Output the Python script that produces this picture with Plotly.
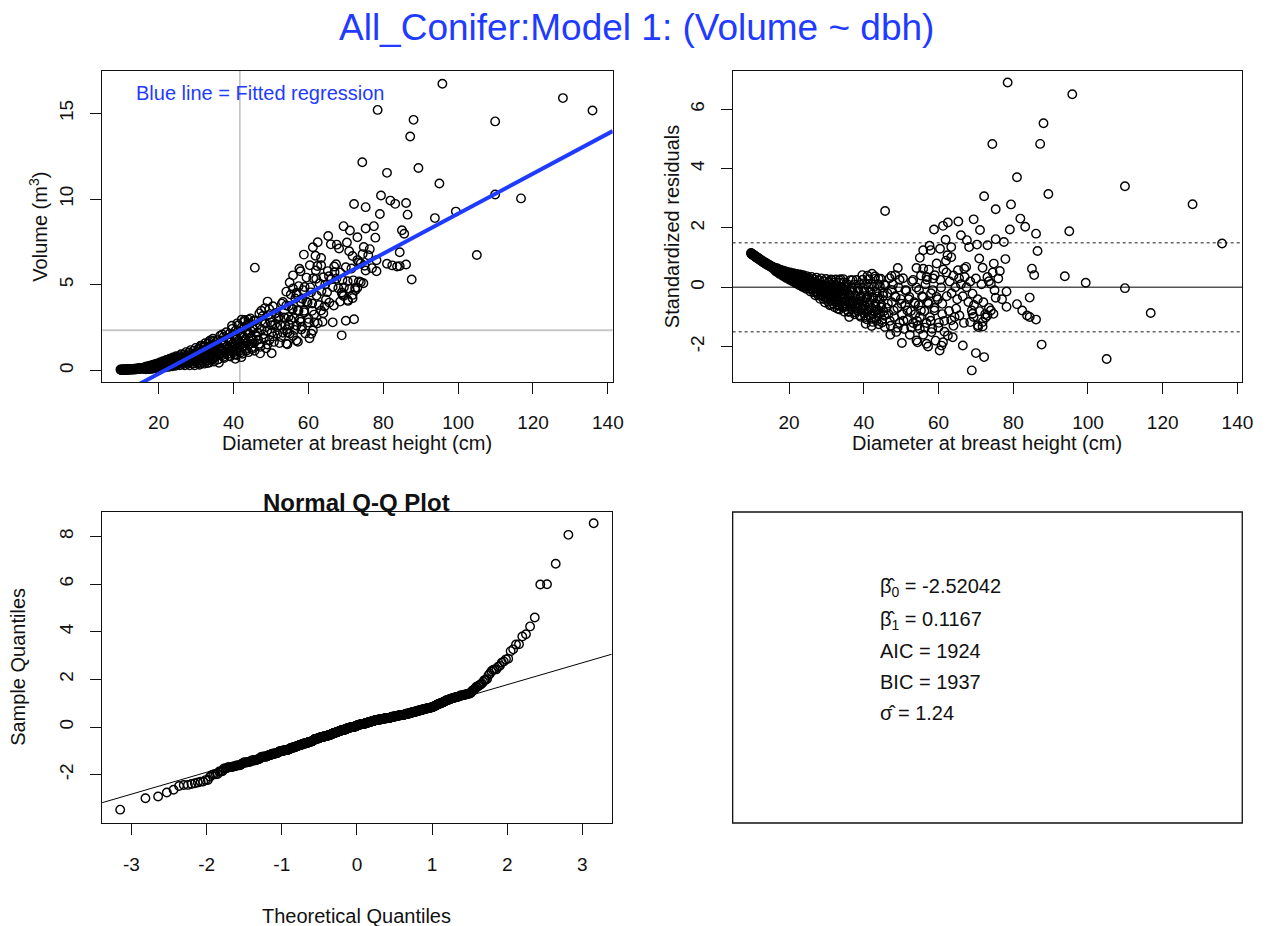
import numpy as np
import plotly.graph_objects as go
from statistics import NormalDist

# ---------------- model summary values ----------------
beta0 = -2.52042
beta1 = 0.1167
sigma_hat = 1.24
aic_value = 1924
bic_value = 1937
mean_dbh = 41.7

# ---------------- data (dbh in cm, volume in m^3) ----------------
dbh_sapling = [9.8, 9.9, 10.0, 10.0, 10.1, 10.2, 10.3, 10.4, 10.5, 10.6, 10.7, 10.8, 10.9, 11.0, 11.1, 11.2, 11.3, 11.5,
               11.6, 11.7, 11.8, 12.0, 12.1, 12.2, 12.3, 12.5, 12.6, 12.7, 12.9, 13.0, 13.1, 13.3, 13.4, 13.5, 13.7, 13.8,
               13.9, 14.1, 14.2, 14.3, 14.5, 14.6, 14.7, 14.9, 15.0, 15.1, 15.3, 15.4, 15.5, 15.7, 15.8, 15.9, 16.0, 16.1]
vol_sapling = [0.06, 0.04, 0.05, 0.03, 0.06, 0.04, 0.05, 0.03, 0.06, 0.04, 0.05, 0.07, 0.04, 0.06, 0.03, 0.05, 0.07, 0.04,
               0.06, 0.08, 0.05, 0.07, 0.04, 0.06, 0.08, 0.05, 0.07, 0.09, 0.06, 0.08, 0.05, 0.09, 0.07, 0.10, 0.06, 0.09,
               0.11, 0.07, 0.10, 0.12, 0.08, 0.11, 0.13, 0.09, 0.12, 0.14, 0.10, 0.13, 0.15, 0.11, 0.14, 0.17, 0.12, 0.16]

dbh_small = [16.20, 16.28, 16.36, 16.44, 16.52, 16.60, 16.68, 16.76, 16.84, 16.92, 17.00, 17.08, 17.16, 17.24, 17.32,
             17.40, 17.48, 17.56, 17.64, 17.72, 17.80, 17.88, 17.96, 18.04, 18.12, 18.20, 18.28, 18.36, 18.44, 18.52,
             18.60, 18.68, 18.76, 18.84, 18.92, 19.00, 19.08, 19.16, 19.24, 19.32, 19.40, 19.48, 19.56, 19.64, 19.72,
             19.80, 19.88, 19.96, 20.04, 20.12, 20.20, 20.28, 20.36, 20.44, 20.52, 20.60, 20.68, 20.76, 20.84, 20.92,
             21.00, 21.08, 21.16, 21.24, 21.32, 21.40, 21.48, 21.56, 21.64, 21.72, 21.80, 21.88, 21.96, 22.04, 22.12,
             22.20, 22.28, 22.36, 22.44, 22.52, 22.60, 22.68, 22.76, 22.84, 22.92, 23.00, 23.08, 23.16, 23.24, 23.32,
             23.40, 23.48, 23.56, 23.64, 23.72, 23.80, 23.88, 23.96, 24.04, 24.12, 24.20, 24.28, 24.36, 24.44, 24.52,
             24.60, 24.68, 24.76, 24.84, 24.92]
vol_small = [0.13, 0.08, 0.19, 0.11, 0.17, 0.07, 0.16, 0.23, 0.11, 0.15, 0.21, 0.16, 0.10, 0.24, 0.14,
             0.22, 0.08, 0.20, 0.28, 0.13, 0.18, 0.26, 0.20, 0.12, 0.29, 0.17, 0.26, 0.10, 0.25, 0.34,
             0.16, 0.22, 0.32, 0.24, 0.14, 0.35, 0.20, 0.31, 0.12, 0.29, 0.40, 0.19, 0.25, 0.37, 0.28,
             0.17, 0.40, 0.24, 0.36, 0.14, 0.34, 0.47, 0.22, 0.30, 0.43, 0.32, 0.19, 0.47, 0.28, 0.42,
             0.17, 0.39, 0.54, 0.25, 0.34, 0.49, 0.37, 0.22, 0.53, 0.32, 0.48, 0.19, 0.44, 0.61, 0.29,
             0.39, 0.56, 0.42, 0.26, 0.60, 0.36, 0.54, 0.22, 0.50, 0.69, 0.33, 0.44, 0.63, 0.47, 0.29,
             0.67, 0.41, 0.60, 0.25, 0.56, 0.76, 0.37, 0.49, 0.69, 0.52, 0.33, 0.74, 0.45, 0.66, 0.28,
             0.62, 0.83, 0.41, 0.54, 0.76]

dbh_young = [25.0, 25.1, 25.2, 25.3, 25.4, 25.5, 25.6, 25.7, 25.8, 25.9, 26.0, 26.1, 26.2, 26.3, 26.4, 26.5, 26.6, 26.7,
             26.8, 26.9, 27.0, 27.1, 27.2, 27.3, 27.4, 27.5, 27.6, 27.7, 27.8, 27.9, 28.0, 28.1, 28.2, 28.3, 28.4, 28.5,
             28.6, 28.7, 28.8, 28.9, 29.0, 29.1, 29.2, 29.3, 29.4, 29.5, 29.6, 29.7, 29.8, 29.9, 30.0, 30.1, 30.2, 30.3,
             30.4, 30.5, 30.6, 30.7, 30.8, 30.9, 31.0, 31.1, 31.2, 31.3, 31.4, 31.5, 31.6, 31.7, 31.8, 31.9, 32.0, 32.1,
             32.2, 32.3, 32.4, 32.5, 32.6, 32.7, 32.8, 32.9, 33.0, 33.1, 33.2, 33.3, 33.4, 33.5, 33.6, 33.7, 33.8, 33.9,
             34.0, 34.1, 34.2, 34.3, 34.4, 34.5, 34.6, 34.7, 34.8, 34.9]
vol_young = [0.58, 0.46, 0.72, 0.37, 0.63, 0.84, 0.54, 0.30, 0.72, 0.44, 0.95, 0.60, 0.71, 0.64, 0.49, 0.80, 0.38, 0.70,
             0.94, 0.58, 0.30, 0.80, 0.47, 1.07, 0.65, 0.78, 0.70, 0.52, 0.89, 0.39, 0.76, 1.05, 0.63, 0.30, 0.88, 0.49,
             1.19, 0.70, 0.85, 0.76, 0.56, 0.98, 0.40, 0.83, 1.16, 0.68, 0.30, 0.97, 0.52, 1.32, 0.76, 0.94, 0.83, 0.60,
             1.08, 0.44, 0.92, 1.28, 0.75, 0.34, 1.07, 0.59, 1.45, 0.85, 1.04, 0.93, 0.68, 1.19, 0.51, 1.02, 1.41, 0.85,
             0.40, 1.19, 0.67, 1.60, 0.95, 1.16, 1.03, 0.77, 1.32, 0.58, 1.14, 1.56, 0.94, 0.46, 1.31, 0.75, 1.76, 1.05,
             1.28, 1.14, 0.86, 1.46, 0.65, 1.26, 1.72, 1.05, 0.52, 1.45]

dbh_pole = [30.3, 30.6, 31.0, 31.3, 31.5, 31.6, 31.9, 32.2, 32.5, 32.8, 33.0, 33.2, 33.4, 33.5, 33.8, 34.1, 34.4,
            34.5, 34.7, 35.0, 35.3, 35.6, 35.9, 36.1, 36.2, 36.5, 36.8, 37.0, 37.1, 37.4, 37.7, 38.0, 38.3, 38.6,
            38.9, 39.2, 39.5, 39.6, 39.8, 40.1, 40.4, 40.5, 40.7, 41.0, 41.0, 41.3, 41.6, 41.9, 42.1, 42.2, 42.2,
            42.5, 42.8, 43.0, 43.1, 43.4, 43.7, 44.0, 44.0, 44.3, 44.6, 44.9, 45.2, 45.5, 45.7, 45.8, 46.1]
vol_pole = [0.70, 1.25, 0.85, 0.40, 1.45, 1.05, 0.75, 1.35, 0.95, 0.60, 0.44, 1.15, 1.68, 0.80, 1.45, 1.00, 0.70,
            1.85, 1.25, 0.90, 1.60, 1.10, 0.65, 0.45, 1.35, 0.95, 1.75, 2.10, 1.20, 0.80, 1.50, 1.05, 1.90, 1.30,
            0.85, 1.65, 1.15, 2.61, 2.10, 1.40, 0.95, 0.68, 1.80, 1.25, 2.75, 2.30, 1.55, 1.05, 0.78, 2.00, 2.97,
            1.35, 2.50, 2.95, 1.70, 1.15, 2.20, 1.50, 2.97, 2.70, 1.85, 1.25, 2.40, 1.60, 6.00, 2.90, 2.00]

dbh_pole2 = [35.00, 35.18, 35.36, 35.54, 35.72, 35.90, 36.08, 36.26, 36.44, 36.62, 36.80, 36.98, 37.16, 37.34, 37.52,
             37.70, 37.88, 38.06, 38.24, 38.42, 38.60, 38.78, 38.96, 39.14, 39.32, 39.50, 39.68, 39.86, 40.04, 40.22,
             40.40, 40.58, 40.76, 40.94, 41.12, 41.30, 41.48, 41.66, 41.84, 42.02, 42.20, 42.38, 42.56, 42.74, 42.92,
             43.10, 43.28, 43.46, 43.64, 43.82, 44.00, 44.18, 44.36, 44.54, 44.72, 44.90, 45.08, 45.26, 45.44, 45.62]
vol_pole2 = [1.15, 0.77, 1.49, 1.03, 1.77, 0.65, 1.40, 1.00, 2.03, 1.28, 0.87, 1.66, 1.15, 1.96, 0.73,
             1.55, 1.12, 2.23, 1.42, 0.97, 1.83, 1.27, 2.15, 0.82, 1.70, 1.23, 2.43, 1.56, 1.07, 1.99,
             1.39, 2.34, 0.90, 1.86, 1.34, 2.64, 1.69, 1.16, 2.16, 1.52, 2.53, 0.98, 2.01, 1.46, 2.84,
             1.83, 1.26, 2.32, 1.64, 2.72, 1.07, 2.16, 1.57, 3.04, 1.96, 1.36, 2.49, 1.76, 2.90, 1.15]

dbh_mature = [46.3, 46.6, 46.9, 47.2, 47.5, 47.8, 48.1, 48.4, 48.7, 49.0, 49.3, 49.6, 49.9, 50.2, 50.5, 50.8, 51.1,
              51.4, 51.7, 52.0, 52.3, 52.6, 52.9, 53.2, 53.5, 53.8, 54.1, 54.4, 54.7, 55.0, 55.3, 55.6, 55.9, 56.2,
              56.5, 56.8, 57.1, 57.4, 57.7, 58.0, 58.3, 58.6, 58.9, 59.2, 59.5, 59.8, 60.1, 60.4, 60.7, 61.0, 61.3,
              61.6, 61.9, 62.2]
vol_mature = [2.64, 1.80, 3.33, 1.38, 2.40, 3.18, 1.85, 2.76, 1.30, 2.33, 3.23, 1.78, 2.81, 2.22, 3.75, 1.67, 2.70,
              3.35, 2.15, 3.05, 1.60, 2.63, 3.90, 2.20, 3.10, 2.64, 3.79, 2.22, 3.12, 2.66, 4.43, 3.60, 2.02, 3.05,
              4.20, 2.62, 3.52, 4.92, 2.97, 4.00, 2.55, 4.69, 3.49, 2.16, 5.42, 3.96, 3.01, 6.14, 4.56, 3.48, 5.38,
              2.81, 6.69, 4.37]

dbh_mature2 = [46.45, 46.97, 47.49, 48.01, 48.53, 49.05, 49.57, 50.09, 50.61, 51.13, 51.65, 52.17, 52.69, 53.21, 53.73,
               54.25, 54.77, 55.29, 55.81, 56.33, 56.85, 57.37, 57.89, 58.41, 58.93, 59.45, 59.97, 60.49, 61.01, 61.53]
vol_mature2 = [2.22, 1.56, 2.91, 2.11, 2.74, 1.52, 3.58, 2.64, 1.99, 3.33, 2.54, 3.17, 1.95, 4.00, 3.07,
               2.41, 3.76, 2.96, 3.59, 2.37, 4.43, 3.49, 2.84, 4.18, 3.39, 4.02, 2.80, 4.85, 3.91, 3.26]

dbh_large = [78.5, 95.8, 88.1, 74.4, 87.2, 81.0, 109.9, 89.4, 72.2, 128.0, 79.4, 75.3, 69.4, 65.3, 81.9, 83.2,
             79.1, 71.1, 86.1, 95.0, 66.0, 67.6, 75.3, 77.5, 73.1, 68.2, 135.9, 86.5, 63.4, 70.9, 77.9, 74.8,
             71.8, 85.0, 76.4, 85.6, 93.8, 66.9, 73.1, 99.4, 109.9, 78.2, 75.3, 84.4, 81.0, 78.2, 82.4, 83.7,
             86.1, 84.4, 73.5, 74.7, 72.6, 71.8, 70.5, 68.9, 69.4, 64.3, 116.8, 87.6, 66.5, 70.0, 72.2, 105.0,
             68.9, 63.8, 62.5, 61.2, 58.8, 70.3, 57.6, 63.4, 57.9, 55.0, 54.1, 55.9, 67.4, 62.1, 65.2, 49.1,
             48.4, 59.0, 56.8, 74.0, 69.1, 74.0, 73.1, 71.8, 70.6, 69.1, 68.5, 65.6, 64.7, 63.4, 62.5, 61.2,
             60.3, 56.8, 50.2, 54.1, 58.1, 55.0, 47.1, 54.4, 57.2, 60.8, 55.9, 47.4, 62.4]
vol_large = [15.20, 16.73, 14.62, 12.15, 13.65, 11.53, 14.53, 11.81, 9.71, 15.89, 10.21, 9.53, 8.42, 7.85, 9.91, 9.72,
             9.13, 8.17, 9.77, 10.91, 7.36, 7.34, 8.28, 8.42, 7.77, 7.12, 15.17, 9.09, 6.14, 6.96, 7.75, 7.20,
             6.68, 8.18, 7.08, 7.98, 8.89, 6.07, 6.44, 9.27, 10.27, 6.43, 5.83, 6.90, 6.23, 5.79, 6.13, 6.07,
             6.18, 6.09, 5.20, 5.09, 4.69, 4.22, 4.12, 4.55, 4.34, 3.74, 10.04, 5.31, 2.81, 2.90, 2.99, 6.74,
             2.05, 2.84, 7.48, 7.19, 6.76, 7.47, 5.94, 6.56, 5.79, 5.13, 4.60, 4.78, 6.20, 5.35, 5.80, 4.02,
             3.64, 4.87, 4.54, 6.26, 5.28, 5.15, 4.83, 4.41, 4.06, 4.44, 4.02, 3.96, 4.14, 3.50, 2.76, 2.33,
             1.88, 1.75, 1.01, 1.57, 2.39, 2.16, 1.00, 1.53, 1.68, 2.14, 5.55, 3.49, 6.10]

dbh_cluster = [63.0, 63.5, 64.0, 64.5, 65.0, 65.5, 66.0, 66.5, 67.0, 67.5, 68.0, 68.5, 69.5, 70.0, 70.5, 71.0,
               71.5, 72.0, 72.5, 73.5, 74.5, 75.0, 76.0, 77.0, 62.8, 64.0, 66.8, 62.0]
vol_cluster = [5.08, 4.64, 5.44, 5.01, 4.57, 5.50, 5.31, 4.87, 5.73, 5.36, 4.80, 5.72, 4.85, 6.02, 5.21, 4.77,
               5.95, 5.26, 4.82, 6.31, 6.79, 6.11, 6.72, 5.97, 3.82, 3.34, 3.79, 5.83]

x_ticks = [20, 40, 60, 80, 100, 120, 140]
vol_ticks = [0, 5, 10, 15]
res_ticks = [-2, 0, 2, 4, 6]
qq_xticks = [-3, -2, -1, 0, 1, 2, 3]
qq_yticks = [-2, 0, 2, 4, 6, 8]

# ---------------- derived quantities ----------------
dbh = np.array(dbh_sapling + dbh_small + dbh_young + dbh_pole + dbh_pole2 + dbh_mature + dbh_mature2
               + dbh_large + dbh_cluster)
vol = np.array(vol_sapling + vol_small + vol_young + vol_pole + vol_pole2 + vol_mature + vol_mature2
               + vol_large + vol_cluster)
fitted = beta0 + beta1 * dbh
resid = vol - fitted
std_resid = resid / sigma_hat
mean_vol = beta0 + beta1 * mean_dbh

n = len(resid)
nd = NormalDist()
sample_q = np.sort(resid)
theo_q = np.array([nd.inv_cdf((i + 0.5) / n) for i in range(n)])
q25, q75 = np.percentile(resid, [25, 75])
z25, z75 = nd.inv_cdf(0.25), nd.inv_cdf(0.75)
qq_slope = (q75 - q25) / (z75 - z25)
qq_int = q25 - qq_slope * z25

# ---------------- layout geometry ----------------
W, H = 1284, 926
def px_x(a, b):
    return [a / W, b / W]
def px_y(top, bottom):
    return [1 - bottom / H, 1 - top / H]

X_RANGE = [4.9, 141.3]
VOL_RANGE = [-0.67, 17.47]
RES_RANGE = [-3.19, 7.29]
QQX_RANGE = [-3.39, 3.39]
QQY_RANGE = [-4.03, 9.03]

INK = "#111111"
BLUE = "#1f3bff"
FONT = "Liberation Sans, Arial, Helvetica, sans-serif"
marker = dict(symbol="circle-open", size=8.5, color="black", line=dict(width=1.4))

fig = go.Figure()

# Panel 1: scatter with fitted line
fig.add_trace(go.Scatter(x=[mean_dbh, mean_dbh], y=VOL_RANGE, mode="lines",
                         line=dict(color="#bdbdbd", width=1.5), xaxis="x", yaxis="y", hoverinfo="skip"))
fig.add_trace(go.Scatter(x=X_RANGE, y=[mean_vol, mean_vol], mode="lines",
                         line=dict(color="#c8c8c8", width=2), xaxis="x", yaxis="y", hoverinfo="skip"))
fig.add_trace(go.Scatter(x=dbh, y=vol, mode="markers", marker=marker, xaxis="x", yaxis="y"))
fig.add_trace(go.Scatter(x=X_RANGE, y=[beta0 + beta1 * X_RANGE[0], beta0 + beta1 * X_RANGE[1]], mode="lines",
                         line=dict(color=BLUE, width=4), xaxis="x", yaxis="y"))

# Panel 2: standardized residuals
fig.add_trace(go.Scatter(x=X_RANGE, y=[0, 0], mode="lines", line=dict(color="#555555", width=1.5),
                         xaxis="x2", yaxis="y2", hoverinfo="skip"))
for lvl in (1.5, -1.5):
    fig.add_trace(go.Scatter(x=X_RANGE, y=[lvl, lvl], mode="lines",
                             line=dict(color="#666666", width=1.5, dash="dot"),
                             xaxis="x2", yaxis="y2", hoverinfo="skip"))
fig.add_trace(go.Scatter(x=dbh, y=std_resid, mode="markers", marker=marker, xaxis="x2", yaxis="y2"))

# Panel 3: normal Q-Q
fig.add_trace(go.Scatter(x=theo_q, y=sample_q, mode="markers", marker=marker, xaxis="x3", yaxis="y3"))
fig.add_trace(go.Scatter(x=QQX_RANGE, y=[qq_int + qq_slope * QQX_RANGE[0], qq_int + qq_slope * QQX_RANGE[1]],
                         mode="lines", line=dict(color="black", width=1), xaxis="x3", yaxis="y3"))

def axis(domain, rng, ticks, anchor, angle=0, standoff=12):
    return dict(domain=domain, range=rng, anchor=anchor, tickvals=ticks, ticktext=[str(t) for t in ticks],
                showline=True, linecolor=INK, linewidth=1.3, mirror=True, ticks="outside", ticklen=11,
                tickwidth=1.3, tickcolor=INK, showgrid=False, zeroline=False, tickangle=angle,
                ticklabelstandoff=standoff, tickfont=dict(size=19, color=INK, family=FONT))

top_y = px_y(71, 382)
bot_y = px_y(512, 823)

fig.update_layout(
    width=W, height=H, margin=dict(l=0, r=0, t=0, b=0),
    paper_bgcolor="white", plot_bgcolor="white", showlegend=False,
    font=dict(family=FONT, color=INK),
    xaxis=axis(px_x(103, 618), X_RANGE, x_ticks, "y", 0, 12),
    yaxis=axis(top_y, VOL_RANGE, vol_ticks, "x", -90, 9),
    xaxis2=axis(px_x(739, 1253), X_RANGE, x_ticks, "y2", 0, 12),
    yaxis2=axis(top_y, RES_RANGE, res_ticks, "x2", -90, 9),
    xaxis3=axis(px_x(103, 617), QQX_RANGE, qq_xticks, "y3", 0, 13),
    yaxis3=axis(bot_y, QQY_RANGE, qq_yticks, "x3", -90, 9),
)

# Panel 4: box with model statistics
fig.add_shape(type="rect", xref="paper", yref="paper", x0=739 / W, x1=1253 / W, y0=1 - 823 / H, y1=1 - 512 / H,
              line=dict(color=INK, width=1.3), fillcolor="rgba(0,0,0,0)")

def ann(text, x, y, size=20, color=INK, angle=0, xanchor="center", bold=False):
    if bold:
        text = "<b>" + text + "</b>"
    fig.add_annotation(text=text, x=x / W, y=1 - y / H, xref="paper", yref="paper", showarrow=False,
                       xanchor=xanchor, yanchor="middle", textangle=angle,
                       font=dict(size=size, color=color, family=FONT))

ann("All_Conifer:Model 1: (Volume ~ dbh)", 642, 27, size=37, color=BLUE)
ann("Blue line = Fitted regression", 135, 93, size=20, color=BLUE, xanchor="left")
ann("Diameter at breast height (cm)", 360, 443)
ann("Volume (m<sup>3</sup>)", 38, 227, angle=-90)
ann("Diameter at breast height (cm)", 996, 443)
ann("Standardized residuals", 678, 227, angle=-90)
ann("Normal Q-Q Plot", 360, 502, size=24, bold=True)
ann("Theoretical Quantiles", 360, 916)
ann("Sample Quantiles", 18, 667, angle=-90)

HAT = "\u0302"
stats_lines = [
    ("\u03b2" + HAT + "<sub>0</sub> = " + str(beta0), 587),
    ("\u03b2" + HAT + "<sub>1</sub> = " + str(beta1), 620),
    ("AIC = " + str(aic_value), 651),
    ("BIC = " + str(bic_value), 682),
    ("\u03c3" + HAT + " = " + str(sigma_hat), 713),
]
for line, yy in stats_lines:
    ann(line, 886, yy, size=20, xanchor="left")

fig.write_html("out.html")
